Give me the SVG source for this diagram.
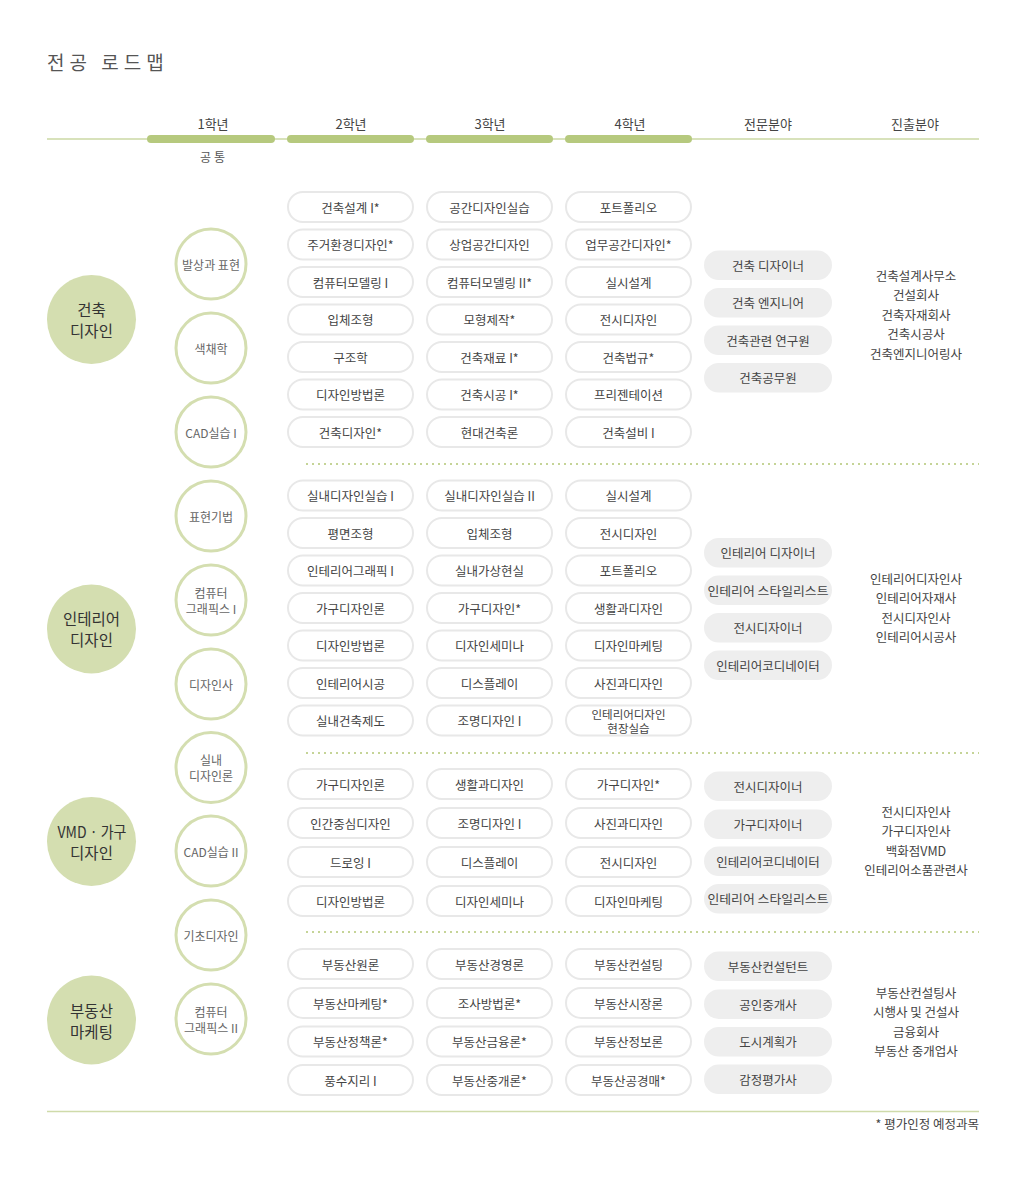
<svg xmlns="http://www.w3.org/2000/svg" width="1020" height="1191" viewBox="0 0 1020 1191">
<style>
text{font-family:"Noto Sans CJK KR","Noto Sans",sans-serif;dominant-baseline:central;text-anchor:middle}
.title{font-size:19px;fill:#555;letter-spacing:5px;text-anchor:start}
.hd{font-size:13px;fill:#444}
.sub{font-size:12px;fill:#555;letter-spacing:3px}
.course{fill:#fff;stroke:#e8e8e8;stroke-width:2}
.field{fill:#eeeeee}
.ct{font-size:12.5px;fill:#444}
.ct2{font-size:11.5px;fill:#444}
.car{font-size:12.5px;fill:#444}
.big{fill:#d4deb0}
.bt{font-size:15.5px;fill:#333}
.sm{fill:#fff;stroke:#d4deb0;stroke-width:3}
.st{font-size:12px;fill:#666}
.bar{fill:#b6c97e}
.dot{stroke:#c5d497;stroke-width:2;stroke-dasharray:2 4;fill:none}
.note{font-size:12.5px;fill:#444;text-anchor:end}
</style>
<rect width="1020" height="1191" fill="#fff"/>
<text class="title" x="47" y="61">전공 로드맵</text>

<g id="header">
<line x1="47" y1="139" x2="979" y2="139" stroke="#cbd9a4" stroke-width="1.5"/>
<rect class="bar" x="147" y="135" width="128" height="8" rx="4"/>
<rect class="bar" x="287" y="135" width="127" height="8" rx="4"/>
<rect class="bar" x="426" y="135" width="127" height="8" rx="4"/>
<rect class="bar" x="565" y="135" width="127" height="8" rx="4"/>
<text class="hd" x="213" y="123">1학년</text>
<text class="hd" x="351" y="123">2학년</text>
<text class="hd" x="490" y="123">3학년</text>
<text class="hd" x="630" y="123">4학년</text>
<text class="hd" x="768" y="123">전문분야</text>
<text class="hd" x="915" y="123">진출분야</text>
<text class="sub" x="214" y="156">공통</text>
</g>

<g id="connectors">
<line class="dot" x1="306" y1="464" x2="979" y2="464"/>
<line class="dot" x1="306" y1="753" x2="979" y2="753"/>
<line class="dot" x1="306" y1="932" x2="979" y2="932"/>
<line x1="47" y1="1111.5" x2="979" y2="1111.5" stroke="#cfdbaa" stroke-width="1.5"/>
</g>

<!-- Major circles -->
<g id="major-arch"><circle class="big" cx="91.5" cy="319.5" r="44.5"/><text class="bt" x="91.5" y="309">건축</text><text class="bt" x="91.5" y="330">디자인</text></g>
<g id="major-interior"><circle class="big" cx="91.5" cy="629" r="44.5"/><text class="bt" x="91.5" y="618">인테리어</text><text class="bt" x="91.5" y="639">디자인</text></g>
<g id="major-vmd"><circle class="big" cx="91.5" cy="841.5" r="44.5"/><text class="bt" x="92" y="831" textLength="69" lengthAdjust="spacingAndGlyphs">VMD · 가구</text><text class="bt" x="91.5" y="852">디자인</text></g>
<g id="major-re"><circle class="big" cx="91.5" cy="1020" r="44.5"/><text class="bt" x="91.5" y="1009.5">부동산</text><text class="bt" x="91.5" y="1030.5">마케팅</text></g>

<!-- First-year common circles -->
<g id="y1-1"><circle class="sm" cx="211" cy="264" r="35"/><text class="st" x="211" y="264">발상과 표현</text></g>
<g id="y1-2"><circle class="sm" cx="211" cy="348" r="35"/><text class="st" x="211" y="348">색채학</text></g>
<g id="y1-3"><circle class="sm" cx="211" cy="432" r="35"/><text class="st" x="211" y="432">CAD실습 I</text></g>
<g id="y1-4"><circle class="sm" cx="211" cy="516" r="35"/><text class="st" x="211" y="516">표현기법</text></g>
<g id="y1-5"><circle class="sm" cx="211" cy="600" r="35"/><text class="st" x="211" y="592">컴퓨터</text><text class="st" x="211" y="608">그래픽스 I</text></g>
<g id="y1-6"><circle class="sm" cx="211" cy="684" r="35"/><text class="st" x="211" y="684">디자인사</text></g>
<g id="y1-7"><circle class="sm" cx="211" cy="767.5" r="35"/><text class="st" x="211" y="759.5">실내</text><text class="st" x="211" y="775.5">디자인론</text></g>
<g id="y1-8"><circle class="sm" cx="211" cy="851" r="35"/><text class="st" x="211" y="851">CAD실습 II</text></g>
<g id="y1-9"><circle class="sm" cx="211" cy="935" r="35"/><text class="st" x="211" y="935">기초디자인</text></g>
<g id="y1-10"><circle class="sm" cx="211" cy="1019" r="35"/><text class="st" x="211" y="1011">컴퓨터</text><text class="st" x="211" y="1027">그래픽스 II</text></g>

<!-- Architecture courses -->
<g id="a2-1"><rect class="course" x="288" y="192" width="125" height="30" rx="15"/><text class="ct" x="350.5" y="207">건축설계 I*</text></g>
<g id="a2-2"><rect class="course" x="288" y="229.5" width="125" height="30" rx="15"/><text class="ct" x="350.5" y="244.5">주거환경디자인*</text></g>
<g id="a2-3"><rect class="course" x="288" y="267" width="125" height="30" rx="15"/><text class="ct" x="350.5" y="282">컴퓨터모델링 I</text></g>
<g id="a2-4"><rect class="course" x="288" y="304.5" width="125" height="30" rx="15"/><text class="ct" x="350.5" y="319.5">입체조형</text></g>
<g id="a2-5"><rect class="course" x="288" y="342" width="125" height="30" rx="15"/><text class="ct" x="350.5" y="357">구조학</text></g>
<g id="a2-6"><rect class="course" x="288" y="379.5" width="125" height="30" rx="15"/><text class="ct" x="350.5" y="394.5">디자인방법론</text></g>
<g id="a2-7"><rect class="course" x="288" y="417" width="125" height="30" rx="15"/><text class="ct" x="350.5" y="432">건축디자인*</text></g>

<g id="a3-1"><rect class="course" x="427" y="192" width="125" height="30" rx="15"/><text class="ct" x="489.5" y="207">공간디자인실습</text></g>
<g id="a3-2"><rect class="course" x="427" y="229.5" width="125" height="30" rx="15"/><text class="ct" x="489.5" y="244.5">상업공간디자인</text></g>
<g id="a3-3"><rect class="course" x="427" y="267" width="125" height="30" rx="15"/><text class="ct" x="489.5" y="282">컴퓨터모델링 II*</text></g>
<g id="a3-4"><rect class="course" x="427" y="304.5" width="125" height="30" rx="15"/><text class="ct" x="489.5" y="319.5">모형제작*</text></g>
<g id="a3-5"><rect class="course" x="427" y="342" width="125" height="30" rx="15"/><text class="ct" x="489.5" y="357">건축재료 I*</text></g>
<g id="a3-6"><rect class="course" x="427" y="379.5" width="125" height="30" rx="15"/><text class="ct" x="489.5" y="394.5">건축시공 I*</text></g>
<g id="a3-7"><rect class="course" x="427" y="417" width="125" height="30" rx="15"/><text class="ct" x="489.5" y="432">현대건축론</text></g>

<g id="a4-1"><rect class="course" x="566" y="192" width="125" height="30" rx="15"/><text class="ct" x="628.5" y="207">포트폴리오</text></g>
<g id="a4-2"><rect class="course" x="566" y="229.5" width="125" height="30" rx="15"/><text class="ct" x="628.5" y="244.5">업무공간디자인*</text></g>
<g id="a4-3"><rect class="course" x="566" y="267" width="125" height="30" rx="15"/><text class="ct" x="628.5" y="282">실시설계</text></g>
<g id="a4-4"><rect class="course" x="566" y="304.5" width="125" height="30" rx="15"/><text class="ct" x="628.5" y="319.5">전시디자인</text></g>
<g id="a4-5"><rect class="course" x="566" y="342" width="125" height="30" rx="15"/><text class="ct" x="628.5" y="357">건축법규*</text></g>
<g id="a4-6"><rect class="course" x="566" y="379.5" width="125" height="30" rx="15"/><text class="ct" x="628.5" y="394.5">프리젠테이션</text></g>
<g id="a4-7"><rect class="course" x="566" y="417" width="125" height="30" rx="15"/><text class="ct" x="628.5" y="432">건축설비 I</text></g>

<g id="a-f1"><rect class="field" x="704" y="250.5" width="128" height="29.5" rx="14.75"/><text class="ct" x="768" y="265">건축 디자이너</text></g>
<g id="a-f2"><rect class="field" x="704" y="288" width="128" height="29.5" rx="14.75"/><text class="ct" x="768" y="302.5">건축 엔지니어</text></g>
<g id="a-f3"><rect class="field" x="704" y="325.5" width="128" height="29.5" rx="14.75"/><text class="ct" x="768" y="340">건축관련 연구원</text></g>
<g id="a-f4"><rect class="field" x="704" y="363" width="128" height="29.5" rx="14.75"/><text class="ct" x="768" y="377.5">건축공무원</text></g>

<g id="a-career">
<text class="car" x="916" y="275">건축설계사무소</text>
<text class="car" x="916" y="294.5">건설회사</text>
<text class="car" x="916" y="314">건축자재회사</text>
<text class="car" x="916" y="333.5">건축시공사</text>
<text class="car" x="916" y="353">건축엔지니어링사</text>
</g>

<!-- Interior courses -->
<g id="i2-1"><rect class="course" x="288" y="480.5" width="125" height="30" rx="15"/><text class="ct" x="350.5" y="495.5">실내디자인실습 I</text></g>
<g id="i2-2"><rect class="course" x="288" y="518" width="125" height="30" rx="15"/><text class="ct" x="350.5" y="533">평면조형</text></g>
<g id="i2-3"><rect class="course" x="288" y="555.5" width="125" height="30" rx="15"/><text class="ct" x="350.5" y="570.5">인테리어그래픽 I</text></g>
<g id="i2-4"><rect class="course" x="288" y="593" width="125" height="30" rx="15"/><text class="ct" x="350.5" y="608">가구디자인론</text></g>
<g id="i2-5"><rect class="course" x="288" y="630.5" width="125" height="30" rx="15"/><text class="ct" x="350.5" y="645.5">디자인방법론</text></g>
<g id="i2-6"><rect class="course" x="288" y="668" width="125" height="30" rx="15"/><text class="ct" x="350.5" y="683">인테리어시공</text></g>
<g id="i2-7"><rect class="course" x="288" y="705.5" width="125" height="30" rx="15"/><text class="ct" x="350.5" y="720.5">실내건축제도</text></g>

<g id="i3-1"><rect class="course" x="427" y="480.5" width="125" height="30" rx="15"/><text class="ct" x="489.5" y="495.5">실내디자인실습 II</text></g>
<g id="i3-2"><rect class="course" x="427" y="518" width="125" height="30" rx="15"/><text class="ct" x="489.5" y="533">입체조형</text></g>
<g id="i3-3"><rect class="course" x="427" y="555.5" width="125" height="30" rx="15"/><text class="ct" x="489.5" y="570.5">실내가상현실</text></g>
<g id="i3-4"><rect class="course" x="427" y="593" width="125" height="30" rx="15"/><text class="ct" x="489.5" y="608">가구디자인*</text></g>
<g id="i3-5"><rect class="course" x="427" y="630.5" width="125" height="30" rx="15"/><text class="ct" x="489.5" y="645.5">디자인세미나</text></g>
<g id="i3-6"><rect class="course" x="427" y="668" width="125" height="30" rx="15"/><text class="ct" x="489.5" y="683">디스플레이</text></g>
<g id="i3-7"><rect class="course" x="427" y="705.5" width="125" height="30" rx="15"/><text class="ct" x="489.5" y="720.5">조명디자인 I</text></g>

<g id="i4-1"><rect class="course" x="566" y="480.5" width="125" height="30" rx="15"/><text class="ct" x="628.5" y="495.5">실시설계</text></g>
<g id="i4-2"><rect class="course" x="566" y="518" width="125" height="30" rx="15"/><text class="ct" x="628.5" y="533">전시디자인</text></g>
<g id="i4-3"><rect class="course" x="566" y="555.5" width="125" height="30" rx="15"/><text class="ct" x="628.5" y="570.5">포트폴리오</text></g>
<g id="i4-4"><rect class="course" x="566" y="593" width="125" height="30" rx="15"/><text class="ct" x="628.5" y="608">생활과디자인</text></g>
<g id="i4-5"><rect class="course" x="566" y="630.5" width="125" height="30" rx="15"/><text class="ct" x="628.5" y="645.5">디자인마케팅</text></g>
<g id="i4-6"><rect class="course" x="566" y="668" width="125" height="30" rx="15"/><text class="ct" x="628.5" y="683">사진과디자인</text></g>
<g id="i4-7"><rect class="course" x="566" y="705.5" width="125" height="30" rx="15"/><text class="ct2" x="628.5" y="713.5">인테리어디자인</text><text class="ct2" x="628.5" y="727.5">현장실습</text></g>

<g id="i-f1"><rect class="field" x="704" y="538" width="128" height="29.5" rx="14.75"/><text class="ct" x="768" y="552.5">인테리어 디자이너</text></g>
<g id="i-f2"><rect class="field" x="704" y="575.5" width="128" height="29.5" rx="14.75"/><text class="ct" x="768" y="590" textLength="121" lengthAdjust="spacingAndGlyphs">인테리어 스타일리스트</text></g>
<g id="i-f3"><rect class="field" x="704" y="613" width="128" height="29.5" rx="14.75"/><text class="ct" x="768" y="627.5">전시디자이너</text></g>
<g id="i-f4"><rect class="field" x="704" y="650.5" width="128" height="29.5" rx="14.75"/><text class="ct" x="768" y="665">인테리어코디네이터</text></g>

<g id="i-career">
<text class="car" x="916" y="578">인테리어디자인사</text>
<text class="car" x="916" y="597.5">인테리어자재사</text>
<text class="car" x="916" y="617">전시디자인사</text>
<text class="car" x="916" y="636.5">인테리어시공사</text>
</g>

<!-- VMD courses -->
<g id="v2-1"><rect class="course" x="288" y="769" width="125" height="30" rx="15"/><text class="ct" x="350.5" y="784">가구디자인론</text></g>
<g id="v2-2"><rect class="course" x="288" y="808" width="125" height="30" rx="15"/><text class="ct" x="350.5" y="823">인간중심디자인</text></g>
<g id="v2-3"><rect class="course" x="288" y="847" width="125" height="30" rx="15"/><text class="ct" x="350.5" y="862">드로잉 I</text></g>
<g id="v2-4"><rect class="course" x="288" y="886" width="125" height="30" rx="15"/><text class="ct" x="350.5" y="901">디자인방법론</text></g>

<g id="v3-1"><rect class="course" x="427" y="769" width="125" height="30" rx="15"/><text class="ct" x="489.5" y="784">생활과디자인</text></g>
<g id="v3-2"><rect class="course" x="427" y="808" width="125" height="30" rx="15"/><text class="ct" x="489.5" y="823">조명디자인 I</text></g>
<g id="v3-3"><rect class="course" x="427" y="847" width="125" height="30" rx="15"/><text class="ct" x="489.5" y="862">디스플레이</text></g>
<g id="v3-4"><rect class="course" x="427" y="886" width="125" height="30" rx="15"/><text class="ct" x="489.5" y="901">디자인세미나</text></g>

<g id="v4-1"><rect class="course" x="566" y="769" width="125" height="30" rx="15"/><text class="ct" x="628.5" y="784">가구디자인*</text></g>
<g id="v4-2"><rect class="course" x="566" y="808" width="125" height="30" rx="15"/><text class="ct" x="628.5" y="823">사진과디자인</text></g>
<g id="v4-3"><rect class="course" x="566" y="847" width="125" height="30" rx="15"/><text class="ct" x="628.5" y="862">전시디자인</text></g>
<g id="v4-4"><rect class="course" x="566" y="886" width="125" height="30" rx="15"/><text class="ct" x="628.5" y="901">디자인마케팅</text></g>

<g id="v-f1"><rect class="field" x="704" y="771.5" width="128" height="29.5" rx="14.75"/><text class="ct" x="768" y="786">전시디자이너</text></g>
<g id="v-f2"><rect class="field" x="704" y="809.5" width="128" height="29.5" rx="14.75"/><text class="ct" x="768" y="824">가구디자이너</text></g>
<g id="v-f3"><rect class="field" x="704" y="846.5" width="128" height="29.5" rx="14.75"/><text class="ct" x="768" y="861">인테리어코디네이터</text></g>
<g id="v-f4"><rect class="field" x="704" y="884" width="128" height="29.5" rx="14.75"/><text class="ct" x="768" y="898.5" textLength="121" lengthAdjust="spacingAndGlyphs">인테리어 스타일리스트</text></g>

<g id="v-career">
<text class="car" x="916" y="811">전시디자인사</text>
<text class="car" x="916" y="830.5">가구디자인사</text>
<text class="car" x="916" y="850">백화점VMD</text>
<text class="car" x="916" y="869.5">인테리어소품관련사</text>
</g>

<!-- Real estate courses -->
<g id="r2-1"><rect class="course" x="288" y="949" width="125" height="30" rx="15"/><text class="ct" x="350.5" y="964">부동산원론</text></g>
<g id="r2-2"><rect class="course" x="288" y="988" width="125" height="30" rx="15"/><text class="ct" x="350.5" y="1003">부동산마케팅*</text></g>
<g id="r2-3"><rect class="course" x="288" y="1026.5" width="125" height="30" rx="15"/><text class="ct" x="350.5" y="1041.5">부동산정책론*</text></g>
<g id="r2-4"><rect class="course" x="288" y="1065" width="125" height="30" rx="15"/><text class="ct" x="350.5" y="1080">풍수지리 I</text></g>

<g id="r3-1"><rect class="course" x="427" y="949" width="125" height="30" rx="15"/><text class="ct" x="489.5" y="964">부동산경영론</text></g>
<g id="r3-2"><rect class="course" x="427" y="988" width="125" height="30" rx="15"/><text class="ct" x="489.5" y="1003">조사방법론*</text></g>
<g id="r3-3"><rect class="course" x="427" y="1026.5" width="125" height="30" rx="15"/><text class="ct" x="489.5" y="1041.5">부동산금융론*</text></g>
<g id="r3-4"><rect class="course" x="427" y="1065" width="125" height="30" rx="15"/><text class="ct" x="489.5" y="1080">부동산중개론*</text></g>

<g id="r4-1"><rect class="course" x="566" y="949" width="125" height="30" rx="15"/><text class="ct" x="628.5" y="964">부동산컨설팅</text></g>
<g id="r4-2"><rect class="course" x="566" y="988" width="125" height="30" rx="15"/><text class="ct" x="628.5" y="1003">부동산시장론</text></g>
<g id="r4-3"><rect class="course" x="566" y="1026.5" width="125" height="30" rx="15"/><text class="ct" x="628.5" y="1041.5">부동산정보론</text></g>
<g id="r4-4"><rect class="course" x="566" y="1065" width="125" height="30" rx="15"/><text class="ct" x="628.5" y="1080">부동산공경매*</text></g>

<g id="r-f1"><rect class="field" x="704" y="951.5" width="128" height="29.5" rx="14.75"/><text class="ct" x="768" y="966">부동산컨설턴트</text></g>
<g id="r-f2"><rect class="field" x="704" y="989.5" width="128" height="29.5" rx="14.75"/><text class="ct" x="768" y="1004">공인중개사</text></g>
<g id="r-f3"><rect class="field" x="704" y="1027" width="128" height="29.5" rx="14.75"/><text class="ct" x="768" y="1041.5">도시계획가</text></g>
<g id="r-f4"><rect class="field" x="704" y="1064.5" width="128" height="29.5" rx="14.75"/><text class="ct" x="768" y="1079">감정평가사</text></g>

<g id="r-career">
<text class="car" x="916" y="992">부동산컨설팅사</text>
<text class="car" x="916" y="1011.5">시행사 및 건설사</text>
<text class="car" x="916" y="1031">금융회사</text>
<text class="car" x="916" y="1050.5">부동산 중개업사</text>
</g>

<text class="note" x="979" y="1123">* 평가인정 예정과목</text>
</svg>
